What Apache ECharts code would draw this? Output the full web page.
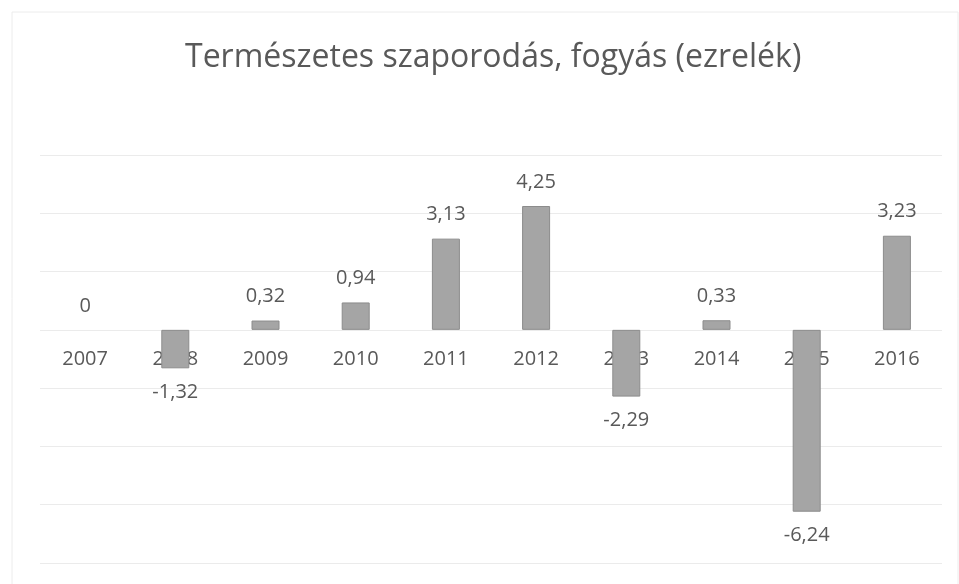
<!DOCTYPE html>
<html>
<head>
<meta charset="utf-8">
<script src="https://cdn.jsdelivr.net/npm/echarts@6/dist/echarts.min.js"></script>
<style>
  html, body { margin: 0; padding: 0; background: #fff; }
  #chart { width: 959px; height: 584px; }
</style>
</head>
<body>
<div id="chart"></div>
<script>
const years = ["2007", "2008", "2009", "2010", "2011", "2012", "2013", "2014", "2015", "2016"];
const values = [0, -1.32, 0.32, 0.94, 3.13, 4.25, -2.29, 0.33, -6.24, 3.23];

const chart = echarts.init(document.getElementById("chart"));
const font = "'Open Sans', 'Noto Sans', sans-serif";

// negative bars get their label under the bar, a zero bar gets no outline
const barData = values.map(function (v) {
  return {
    value: v,
    label: { position: v < 0 ? "bottom" : "top" },
    itemStyle: v === 0 ? { borderWidth: 0 } : {},
  };
});

chart.setOption({
  animation: false,
  title: {
    text: "Természetes szaporodás, fogyás (ezrelék)",
    left: 180,
    top: 37,
    textStyle: { fontFamily: font, fontSize: 32, fontWeight: "normal", color: "#595959" },
  },
  graphic: [
    { type: "rect", shape: { x: 12, y: 12, width: 946, height: 580 }, style: { fill: "none", stroke: "#ececec", lineWidth: 1 } },
  ],
  grid: { left: 40, right: 17, top: 155, bottom: 21, outerBoundsMode: "none" },
  xAxis: {
    type: "category",
    data: years,
    // move the labels up to the zero line (6 of 14 units below the top)
    offset: -233,
    axisLine: { show: false, onZero: false },
    axisTick: { show: false },
    axisLabel: { show: true, fontFamily: font, fontSize: 20, color: "#595959", margin: 19 },
  },
  yAxis: {
    type: "value",
    min: -8,
    max: 6,
    interval: 2,
    axisLabel: { show: false },
    axisLine: { show: false },
    axisTick: { show: false },
    splitLine: { lineStyle: { color: "#ebebeb", width: 1 } },
  },
  series: [
    {
      type: "bar",
      data: barData,
      barWidth: 28,
      itemStyle: { color: "#a5a5a5", borderColor: "#8c8c8c", borderWidth: 1 },
      label: {
        show: true,
        distance: 14,
        fontFamily: font,
        fontSize: 20,
        color: "#595959",
        formatter: function (p) { return String(p.value).replace(".", ","); },
      },
    },
  ],
});
</script>
</body>
</html>
